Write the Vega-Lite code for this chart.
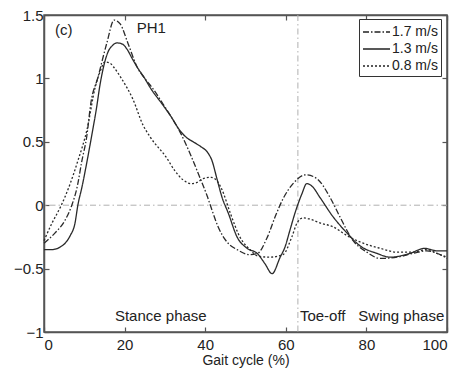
{
  "$schema": "https://vega.github.io/schema/vega-lite/v6.json",
  "width": 403,
  "height": 317,
  "autosize": {"type": "none"},
  "padding": {"left": 44, "top": 15, "right": 17, "bottom": 40},
  "background": "white",
  "config": {
    "font": "Liberation Sans",
    "view": {"stroke": "#555", "strokeWidth": 1.5},
    "axis": {
      "domainColor": "#555", "domainWidth": 1.5, "tickColor": "#555", "tickWidth": 1.2,
      "tickSize": -5, "labelFontSize": 15, "labelColor": "#222", "grid": false,
      "titleFontSize": 14, "titleFontWeight": "normal", "titleColor": "#222", "labelFont": "Liberation Sans", "titleFont": "Liberation Sans"
    },
    "legend": {
      "orient": "none", "legendX": 315, "legendY": 4, "strokeColor": "#333", "fillColor": "white",
      "padding": 3, "symbolType": "M-1,0H2", "symbolSize": 324, "symbolStrokeWidth": 1.3, "symbolStrokeColor": "#222", "symbolFillColor": "transparent",
      "labelFontSize": 14, "labelColor": "#222", "labelFont": "Liberation Sans", "rowPadding": 0, "labelOffset": 10, "title": null
    }
  },
  "datasets": {
    "curves": [
      {"speed": "1.7 m/s", "x": 0, "y": -0.30}, {"speed": "1.7 m/s", "x": 2.7, "y": -0.22}, {"speed": "1.7 m/s", "x": 5.2, "y": -0.12}, {"speed": "1.7 m/s", "x": 6.9, "y": 0.0}, {"speed": "1.7 m/s", "x": 8.2, "y": 0.14}, {"speed": "1.7 m/s", "x": 9.4, "y": 0.35}, {"speed": "1.7 m/s", "x": 10.6, "y": 0.54}, {"speed": "1.7 m/s", "x": 11.6, "y": 0.8}, {"speed": "1.7 m/s", "x": 13.4, "y": 1.01}, {"speed": "1.7 m/s", "x": 15.6, "y": 1.28}, {"speed": "1.7 m/s", "x": 17.4, "y": 1.46}, {"speed": "1.7 m/s", "x": 18.9, "y": 1.43}, {"speed": "1.7 m/s", "x": 20.8, "y": 1.28}, {"speed": "1.7 m/s", "x": 23.1, "y": 1.09}, {"speed": "1.7 m/s", "x": 25, "y": 1.0}, {"speed": "1.7 m/s", "x": 27, "y": 0.92}, {"speed": "1.7 m/s", "x": 29.5, "y": 0.8}, {"speed": "1.7 m/s", "x": 31.5, "y": 0.7}, {"speed": "1.7 m/s", "x": 33.7, "y": 0.58}, {"speed": "1.7 m/s", "x": 36.2, "y": 0.41}, {"speed": "1.7 m/s", "x": 38.4, "y": 0.24}, {"speed": "1.7 m/s", "x": 40.4, "y": 0.08}, {"speed": "1.7 m/s", "x": 41.7, "y": -0.04}, {"speed": "1.7 m/s", "x": 43.2, "y": -0.17}, {"speed": "1.7 m/s", "x": 45.4, "y": -0.29}, {"speed": "1.7 m/s", "x": 47.9, "y": -0.35}, {"speed": "1.7 m/s", "x": 51, "y": -0.39}, {"speed": "1.7 m/s", "x": 53, "y": -0.38}, {"speed": "1.7 m/s", "x": 55.3, "y": -0.26}, {"speed": "1.7 m/s", "x": 57.5, "y": -0.08}, {"speed": "1.7 m/s", "x": 59.3, "y": 0.05}, {"speed": "1.7 m/s", "x": 61.8, "y": 0.17}, {"speed": "1.7 m/s", "x": 65, "y": 0.24}, {"speed": "1.7 m/s", "x": 67.7, "y": 0.21}, {"speed": "1.7 m/s", "x": 71, "y": 0.06}, {"speed": "1.7 m/s", "x": 73.4, "y": -0.09}, {"speed": "1.7 m/s", "x": 76.7, "y": -0.28}, {"speed": "1.7 m/s", "x": 80.1, "y": -0.37}, {"speed": "1.7 m/s", "x": 83.4, "y": -0.42}, {"speed": "1.7 m/s", "x": 87.6, "y": -0.41}, {"speed": "1.7 m/s", "x": 91.6, "y": -0.38}, {"speed": "1.7 m/s", "x": 95, "y": -0.36}, {"speed": "1.7 m/s", "x": 98.3, "y": -0.39}, {"speed": "1.7 m/s", "x": 100, "y": -0.42},
      {"speed": "1.3 m/s", "x": 0, "y": -0.35}, {"speed": "1.3 m/s", "x": 2, "y": -0.35}, {"speed": "1.3 m/s", "x": 4, "y": -0.33}, {"speed": "1.3 m/s", "x": 5.5, "y": -0.29}, {"speed": "1.3 m/s", "x": 6.5, "y": -0.24}, {"speed": "1.3 m/s", "x": 7.7, "y": -0.14}, {"speed": "1.3 m/s", "x": 8.4, "y": 0.0}, {"speed": "1.3 m/s", "x": 9.4, "y": 0.14}, {"speed": "1.3 m/s", "x": 10.7, "y": 0.35}, {"speed": "1.3 m/s", "x": 11.9, "y": 0.56}, {"speed": "1.3 m/s", "x": 13, "y": 0.76}, {"speed": "1.3 m/s", "x": 13.9, "y": 0.95}, {"speed": "1.3 m/s", "x": 15, "y": 1.12}, {"speed": "1.3 m/s", "x": 15.9, "y": 1.21}, {"speed": "1.3 m/s", "x": 17, "y": 1.26}, {"speed": "1.3 m/s", "x": 18.1, "y": 1.28}, {"speed": "1.3 m/s", "x": 19.5, "y": 1.27}, {"speed": "1.3 m/s", "x": 20.6, "y": 1.23}, {"speed": "1.3 m/s", "x": 22, "y": 1.15}, {"speed": "1.3 m/s", "x": 23.1, "y": 1.09}, {"speed": "1.3 m/s", "x": 25, "y": 1.0}, {"speed": "1.3 m/s", "x": 26.3, "y": 0.93}, {"speed": "1.3 m/s", "x": 29.5, "y": 0.79}, {"speed": "1.3 m/s", "x": 31.5, "y": 0.7}, {"speed": "1.3 m/s", "x": 33.7, "y": 0.59}, {"speed": "1.3 m/s", "x": 35.5, "y": 0.53}, {"speed": "1.3 m/s", "x": 37, "y": 0.5}, {"speed": "1.3 m/s", "x": 39, "y": 0.46}, {"speed": "1.3 m/s", "x": 40.5, "y": 0.42}, {"speed": "1.3 m/s", "x": 41.7, "y": 0.35}, {"speed": "1.3 m/s", "x": 42.9, "y": 0.21}, {"speed": "1.3 m/s", "x": 44.2, "y": 0.06}, {"speed": "1.3 m/s", "x": 45.7, "y": -0.06}, {"speed": "1.3 m/s", "x": 47.9, "y": -0.25}, {"speed": "1.3 m/s", "x": 50.4, "y": -0.34}, {"speed": "1.3 m/s", "x": 52.9, "y": -0.38}, {"speed": "1.3 m/s", "x": 54.8, "y": -0.46}, {"speed": "1.3 m/s", "x": 56.6, "y": -0.54}, {"speed": "1.3 m/s", "x": 58.6, "y": -0.41}, {"speed": "1.3 m/s", "x": 59.8, "y": -0.33}, {"speed": "1.3 m/s", "x": 61, "y": -0.2}, {"speed": "1.3 m/s", "x": 62.3, "y": -0.06}, {"speed": "1.3 m/s", "x": 64, "y": 0.09}, {"speed": "1.3 m/s", "x": 65.2, "y": 0.17}, {"speed": "1.3 m/s", "x": 66.5, "y": 0.15}, {"speed": "1.3 m/s", "x": 68.5, "y": 0.06}, {"speed": "1.3 m/s", "x": 71.7, "y": -0.09}, {"speed": "1.3 m/s", "x": 75.2, "y": -0.22}, {"speed": "1.3 m/s", "x": 78.4, "y": -0.32}, {"speed": "1.3 m/s", "x": 82.6, "y": -0.38}, {"speed": "1.3 m/s", "x": 85.9, "y": -0.41}, {"speed": "1.3 m/s", "x": 90.8, "y": -0.38}, {"speed": "1.3 m/s", "x": 94.5, "y": -0.34}, {"speed": "1.3 m/s", "x": 97.5, "y": -0.36}, {"speed": "1.3 m/s", "x": 100, "y": -0.36},
      {"speed": "0.8 m/s", "x": 0, "y": -0.28}, {"speed": "0.8 m/s", "x": 2, "y": -0.14}, {"speed": "0.8 m/s", "x": 4, "y": -0.02}, {"speed": "0.8 m/s", "x": 6.5, "y": 0.17}, {"speed": "0.8 m/s", "x": 8.4, "y": 0.35}, {"speed": "0.8 m/s", "x": 10.7, "y": 0.6}, {"speed": "0.8 m/s", "x": 12.7, "y": 0.93}, {"speed": "0.8 m/s", "x": 14, "y": 1.06}, {"speed": "0.8 m/s", "x": 15.1, "y": 1.13}, {"speed": "0.8 m/s", "x": 16.4, "y": 1.12}, {"speed": "0.8 m/s", "x": 17.5, "y": 1.08}, {"speed": "0.8 m/s", "x": 19.4, "y": 0.99}, {"speed": "0.8 m/s", "x": 22, "y": 0.84}, {"speed": "0.8 m/s", "x": 24.6, "y": 0.63}, {"speed": "0.8 m/s", "x": 26.3, "y": 0.54}, {"speed": "0.8 m/s", "x": 30.5, "y": 0.37}, {"speed": "0.8 m/s", "x": 32.5, "y": 0.27}, {"speed": "0.8 m/s", "x": 34.5, "y": 0.2}, {"speed": "0.8 m/s", "x": 36.5, "y": 0.17}, {"speed": "0.8 m/s", "x": 38, "y": 0.18}, {"speed": "0.8 m/s", "x": 39.5, "y": 0.21}, {"speed": "0.8 m/s", "x": 41.5, "y": 0.22}, {"speed": "0.8 m/s", "x": 43.2, "y": 0.18}, {"speed": "0.8 m/s", "x": 44.2, "y": 0.12}, {"speed": "0.8 m/s", "x": 46.2, "y": -0.06}, {"speed": "0.8 m/s", "x": 48.6, "y": -0.25}, {"speed": "0.8 m/s", "x": 51.1, "y": -0.35}, {"speed": "0.8 m/s", "x": 53, "y": -0.4}, {"speed": "0.8 m/s", "x": 56, "y": -0.41}, {"speed": "0.8 m/s", "x": 59.3, "y": -0.39}, {"speed": "0.8 m/s", "x": 61.5, "y": -0.25}, {"speed": "0.8 m/s", "x": 62.8, "y": -0.14}, {"speed": "0.8 m/s", "x": 64.3, "y": -0.1}, {"speed": "0.8 m/s", "x": 66, "y": -0.11}, {"speed": "0.8 m/s", "x": 68.5, "y": -0.14}, {"speed": "0.8 m/s", "x": 71.7, "y": -0.17}, {"speed": "0.8 m/s", "x": 75.2, "y": -0.24}, {"speed": "0.8 m/s", "x": 78.4, "y": -0.29}, {"speed": "0.8 m/s", "x": 83.4, "y": -0.34}, {"speed": "0.8 m/s", "x": 87.6, "y": -0.37}, {"speed": "0.8 m/s", "x": 91.6, "y": -0.37}, {"speed": "0.8 m/s", "x": 95, "y": -0.35}, {"speed": "0.8 m/s", "x": 97.5, "y": -0.38}, {"speed": "0.8 m/s", "x": 100, "y": -0.41}
    ],
    "labels": [
      {"x": 2.7, "y": 1.38, "text": "(c)"},
      {"x": 23, "y": 1.4, "text": "PH1"},
      {"x": 17.6, "y": -0.87, "text": "Stance phase"},
      {"x": 63.5, "y": -0.87, "text": "Toe-off"},
      {"x": 78, "y": -0.87, "text": "Swing phase"}
    ]
  },
  "resolve": {"scale": {"x": "independent", "y": "independent"}},
  "layer": [
    {
      "layer": [
        {
          "data": {"values": [{"y0": 0}]},
          "mark": {"type": "rule", "color": "#b0b0b0", "strokeWidth": 1, "strokeDash": [6, 3, 1.5, 3]},
          "encoding": {"y": {"field": "y0", "type": "quantitative", "scale": {"domain": [-1, 1.5], "nice": false, "zero": false}}}
        },
        {
          "data": {"values": [{"x0": 63}]},
          "mark": {"type": "rule", "color": "#b0b0b0", "strokeWidth": 1, "strokeDash": [6, 3, 1.5, 3]},
          "encoding": {"x": {"field": "x0", "type": "quantitative", "scale": {"domain": [0, 100], "nice": false}}}
        },
        {
          "data": {"name": "curves"},
          "mark": {"type": "line", "color": "#2a2a2a", "strokeWidth": 1.3, "interpolate": "monotone"},
          "encoding": {
            "x": {"field": "x", "type": "quantitative", "scale": {"domain": [0, 100], "nice": false},
                  "axis": {"values": [0, 20, 40, 60, 80, 100], "title": "Gait cycle (%)", "labelPadding": 10, "titlePadding": 1}},
            "y": {"field": "y", "type": "quantitative", "scale": {"domain": [-1, 1.5], "nice": false, "zero": false},
                  "axis": {"values": [-1, -0.5, 0, 0.5, 1, 1.5], "format": "~g", "title": null, "labelPadding": 6}},
            "strokeDash": {"field": "speed", "type": "nominal",
                  "scale": {"domain": ["1.7 m/s", "1.3 m/s", "0.8 m/s"], "range": [[6, 2, 1.5, 2], [1, 0], [2, 2]]},
                  "legend": {"title": null}}
          }
        },
        {
          "data": {"name": "labels"},
          "mark": {"type": "text", "align": "left", "baseline": "middle", "fontSize": 15, "color": "#222", "font": "Liberation Sans"},
          "encoding": {
            "x": {"field": "x", "type": "quantitative"},
            "y": {"field": "y", "type": "quantitative"},
            "text": {"field": "text", "type": "nominal"}
          }
        }
      ]
    },
    {
      "data": {"values": [{"x": 0, "y": 0}]},
      "mark": {"type": "point", "opacity": 0},
      "encoding": {
        "x": {"field": "x", "type": "quantitative", "scale": {"domain": [0, 100], "nice": false},
              "axis": {"orient": "top", "values": [0, 20, 40, 60, 80, 100], "labels": false, "title": null}},
        "y": {"field": "y", "type": "quantitative", "scale": {"domain": [-1, 1.5], "nice": false, "zero": false},
              "axis": {"orient": "right", "values": [-1, -0.5, 0, 0.5, 1, 1.5], "labels": false, "title": null}}
      }
    }
  ]
}
